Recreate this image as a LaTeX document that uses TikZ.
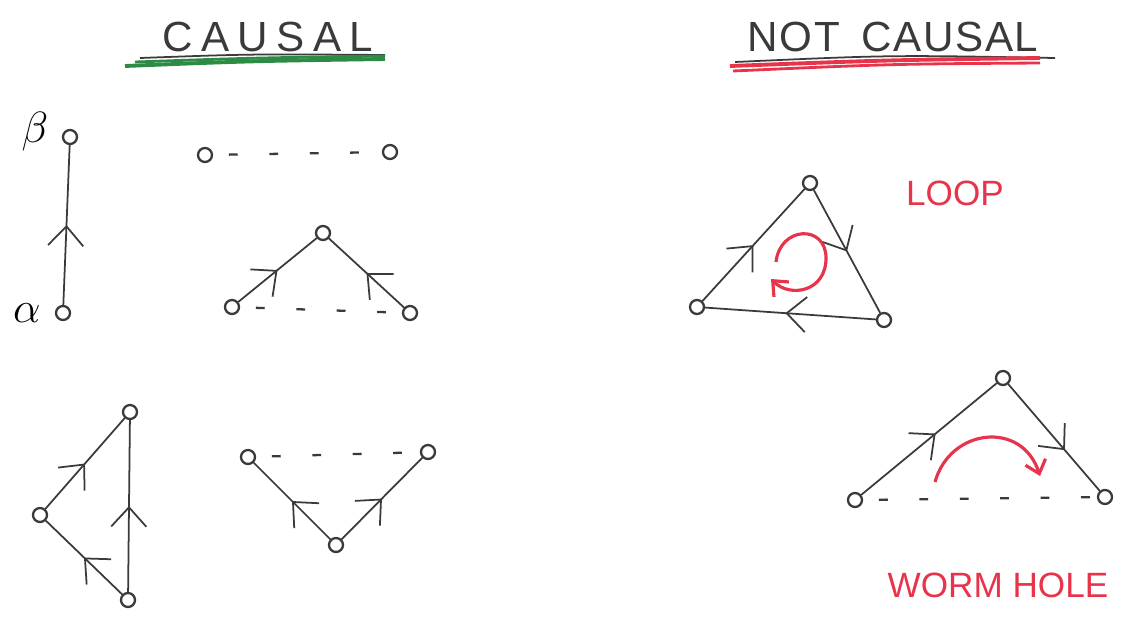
\documentclass[tikz,border=0pt]{standalone}
\usepackage{fontspec}
\setmainfont{Liberation Sans}
\usetikzlibrary{arrows.meta,decorations.markings}
\definecolor{pencil}{HTML}{3A3A3A}
\definecolor{mred}{HTML}{E8344A}
\definecolor{mgreen}{HTML}{2E8B45}
\begin{document}
\begin{tikzpicture}[x=0.02cm,y=-0.02cm,
  pt/.style={circle,draw=pencil,line width=1.3pt,minimum size=0.28cm,inner sep=0pt},
  ln/.style={draw=pencil,line width=1pt},
  midarr/.style={postaction={decorate},decoration={markings,mark=at position #1 with {\arrow[pencil,line width=1pt]{Straight Barb[length=11pt,width=20pt]}}}},
  midarr/.default=0.5,
  dashline/.style={draw=pencil,line width=1.3pt,dash pattern=on 5pt off 18pt,dash phase=14pt},
  titlefont/.style={text=pencil,font=\fontsize{24}{28}\selectfont},
  redlabel/.style={text=mred,font=\fontsize{20}{24}\selectfont},
  redarr/.style={draw=mred,line width=1.8pt,-{Straight Barb[length=7pt,width=12pt]}}
]
\useasboundingbox (0,0) rectangle (1121,616);

% titles
\node[titlefont] (t1) at (268,37) {\addfontfeatures{LetterSpace=20}CAUSAL};
\node[titlefont] (t2) at (893,37) {\addfontfeatures{LetterSpace=4}NOT\hspace{0.5em}CAUSAL};
\draw[pencil,line width=1pt] (140,58) .. controls (250,54) .. (385,55);
\draw[mgreen,line width=2.2pt] (125,66) .. controls (250,61) .. (385,59);
\draw[mgreen,line width=1.6pt] (135,62) .. controls (250,58) .. (385,56);
\draw[pencil,line width=1pt] (735,62) .. controls (890,55) .. (1055,58);
\draw[mred,line width=2.2pt] (730,66) .. controls (890,60) .. (1040,58);
\draw[mred,line width=1.6pt] (733,71) .. controls (890,64) .. (1040,63);

% alpha -> beta
\node[pt] (b) at (70,137) {};
\node[pt] (a) at (63,313) {};
\node (lb) at (35,132) {\fontsize{28}{30}\selectfont$\beta$};
\node (la) at (27,313) {\fontsize{28}{30}\selectfont$\alpha$};
\draw[ln,midarr] (a) -- (b);

% two unconnected
\node[pt] (u1) at (205,155) {};
\node[pt] (u2) at (390,152) {};
\draw[dashline] (u1) -- (u2);

% common effect
\node[pt] (p) at (323,233) {};
\node[pt] (pl) at (232,307) {};
\node[pt] (pr) at (410,313) {};
\draw[ln,midarr] (pl) -- (p);
\draw[ln,midarr] (pr) -- (p);
\draw[dashline] (pl) -- (pr);

% bottom-left triangle
\node[pt] (ct) at (130,412) {};
\node[pt] (cl) at (40,515) {};
\node[pt] (cb) at (128,600) {};
\draw[ln,midarr] (cl) -- (ct);
\draw[ln,midarr] (cb) -- (cl);
\draw[ln,midarr] (cb) -- (ct);

% common cause
\node[pt] (vl) at (248,457) {};
\node[pt] (vr) at (428,452) {};
\node[pt] (vb) at (336,545) {};
\draw[ln,midarr] (vb) -- (vl);
\draw[ln,midarr] (vb) -- (vr);
\draw[dashline] (vl) -- (vr);

% loop
\node[pt] (lt) at (810,183) {};
\node[pt] (ll) at (697,307) {};
\node[pt] (lr) at (884,320) {};
\draw[ln,midarr] (ll) -- (lt);
\draw[ln,midarr] (lt) -- (lr);
\draw[ln,midarr=0.53] (lr) -- (ll);
\draw[redarr] (776,262) .. controls (780,226) and (826,224) .. (826,258) .. controls (826,292) and (790,298) .. (771,279);
\node[redlabel] (loop) at (955,193) {LOOP};

% worm hole
\node[pt] (wt) at (1003,378) {};
\node[pt] (wl) at (855,500) {};
\node[pt] (wr) at (1105,497) {};
\draw[ln,midarr=0.55] (wl) -- (wt);
\draw[ln,midarr=0.62] (wt) -- (wr);
\draw[dashline] (wl) -- (wr);
\draw[redarr] (935,482) .. controls (950,428) and (1022,420) .. (1040,476);
\node[redlabel] (wh) at (998,585) {WORM HOLE};
\end{tikzpicture}
\end{document}
